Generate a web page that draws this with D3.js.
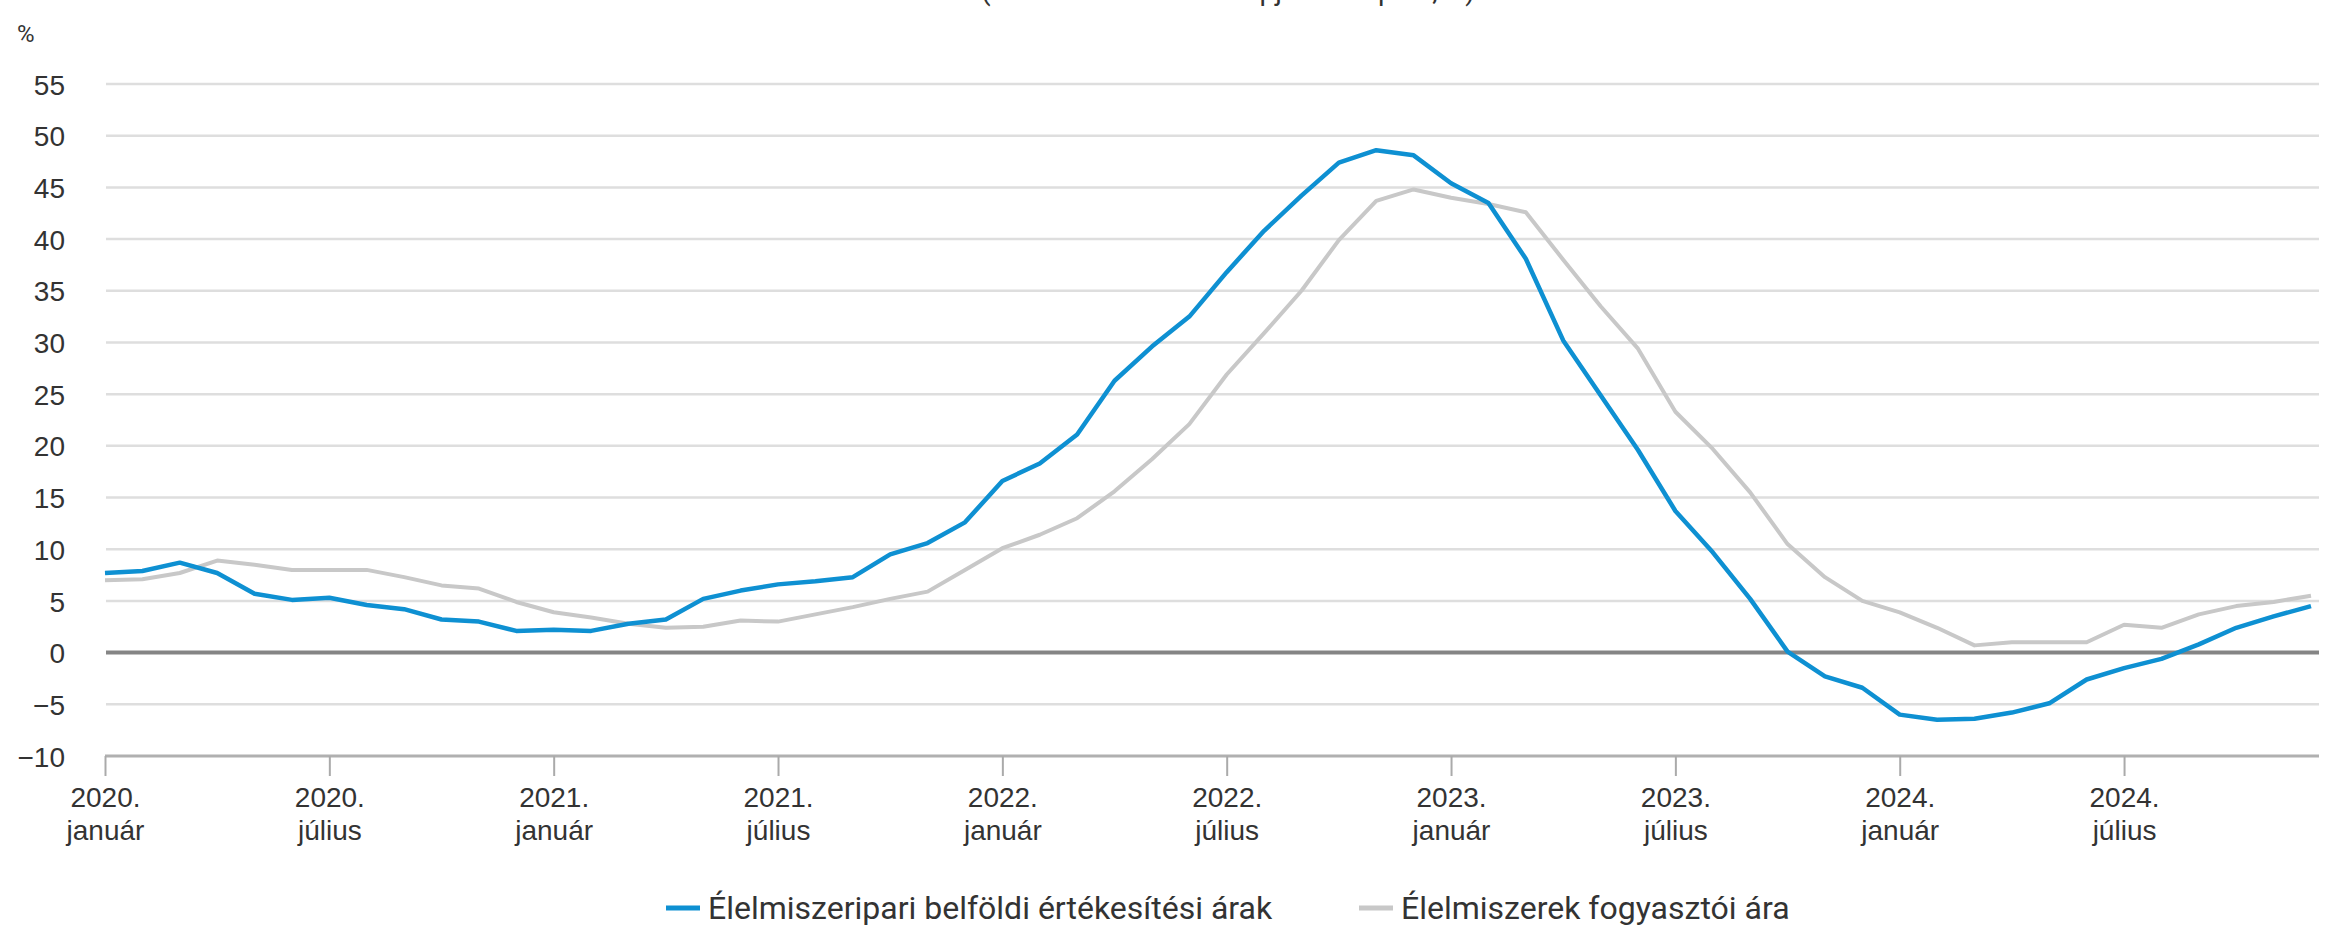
<!DOCTYPE html>
<html>
<head>
<meta charset="utf-8">
<style>
body { margin: 0; background: #fff; }
svg { display: block; font-family: Roboto, "Noto Sans", sans-serif; }
.grid line { stroke: #dedede; stroke-width: 2.5px; }
.axis text { fill: #333; font-size: 28px; }
</style>
</head>
<body>
<script src="https://cdn.jsdelivr.net/npm/d3@7"></script>
<script>
var width = 2337,
    height = 929;

// havi adatok 2020. január - 2024. december
var months = [];
for (var y = 2020; y <= 2024; y++)
  for (var m = 1; m <= 12; m++) months.push(y + "-" + (m < 10 ? "0" + m : m));

var ipari = [7.7,7.9,8.7,7.7,5.7,5.1,5.3,4.6,4.2,3.2,3.0,2.1,2.2,2.1,2.8,3.2,5.2,6.0,6.6,6.9,
  7.3,9.5,10.6,12.6,16.6,18.3,21.1,26.3,29.6,32.5,36.8,40.8,44.2,47.4,48.6,48.1,45.4,43.5,38.1,30.2,
  24.9,19.6,13.7,9.7,5.2,0.1,-2.3,-3.4,-6.0,-6.5,-6.4,-5.8,-4.9,-2.6,-1.5,-0.6,0.8,2.4,3.5,4.5];

var fogyasztoi = [7.0,7.1,7.7,8.9,8.5,8.0,8.0,8.0,7.3,6.5,6.2,4.9,3.9,3.4,2.8,2.4,2.5,3.1,3.0,3.7,
  4.4,5.2,5.9,8.0,10.1,11.4,13.0,15.6,18.7,22.1,26.9,30.9,35.0,39.9,43.7,44.8,44.0,43.4,42.6,38.0,
  33.5,29.4,23.3,19.7,15.5,10.5,7.3,5.0,3.9,2.4,0.7,1.0,1.0,1.0,2.7,2.4,3.7,4.5,4.9,5.5];

var yTicks = [-10,-5,0,5,10,15,20,25,30,35,40,45,50,55];
var monthNames = {"01": "január", "07": "július"};
var seriesNames = ["Élelmiszeripari belföldi értékesítési árak", "Élelmiszerek fogyasztói ára"];
var colors = ["#0e90d2", "#c8c8c8"];

var x = d3.scalePoint()
    .domain(months)
    .range([105, 2311]);

var y = d3.scaleLinear()
    .domain([-10, 55])
    .range([756, 84]);

var svg = d3.select("body").append("svg")
    .attr("width", width)
    .attr("height", height);

// a cím a kép felső szélén levágva
svg.append("text")
    .attr("x", 1228)
    .attr("y", 0)
    .attr("text-anchor", "middle")
    .style("font-size", "28px")
    .style("fill", "#333")
    .text("(előző év azonos hónapjához képest, %)");

svg.append("text")
    .attr("x", 17)
    .attr("y", 42)
    .style("font-size", "24px")
    .style("fill", "#333")
    .text("%");

// rácsvonalak
svg.append("g")
    .attr("class", "grid")
    .selectAll("line")
    .data(yTicks.filter(function(d) { return d > -10 && d !== 0; }))
    .enter().append("line")
    .attr("x1", 106).attr("x2", 2319)
    .attr("y1", function(d) { return y(d); })
    .attr("y2", function(d) { return y(d); });

// y tengely
var yAxis = svg.append("g")
    .attr("class", "axis")
    .attr("transform", "translate(65,0)")
    .call(d3.axisLeft(y).tickValues(yTicks).tickSize(0).tickPadding(0));
yAxis.select(".domain").remove();
yAxis.selectAll("text").attr("dy", "0.36em");

// x tengely
var xAxis = svg.append("g")
    .attr("class", "axis")
    .attr("transform", "translate(0," + y(-10) + ")")
    .call(d3.axisBottom(x)
      .tickValues(months.filter(function(d) { return monthNames[d.slice(5)]; }))
      .tickSize(20)
      .tickFormat(function() { return ""; }));
xAxis.select(".domain")
    .attr("d", "M105,0H2319")
    .attr("stroke", "#b0b0b0")
    .attr("stroke-width", 3);
xAxis.selectAll(".tick line").attr("stroke", "#aaa").attr("stroke-width", 2);
xAxis.selectAll(".tick text").remove();
xAxis.selectAll(".tick").each(function(d) {
  var t = d3.select(this).append("text")
      .attr("text-anchor", "middle")
      .attr("fill", "#333");
  t.append("tspan").attr("x", 0).attr("y", 51).text(d.slice(0, 4) + ".");
  t.append("tspan").attr("x", 0).attr("y", 84).text(monthNames[d.slice(5)]);
});

// nulla vonal
svg.append("line")
    .attr("x1", 106).attr("x2", 2319)
    .attr("y1", y(0)).attr("y2", y(0))
    .attr("stroke", "#858585")
    .attr("stroke-width", 4);

var line = d3.line()
    .x(function(d, i) { return x(months[i]); })
    .y(function(d) { return y(d); });

svg.append("path")
    .datum(fogyasztoi)
    .attr("fill", "none")
    .attr("stroke", colors[1])
    .attr("stroke-width", 4)
    .attr("stroke-linejoin", "round")
    .attr("d", line);

svg.append("path")
    .datum(ipari)
    .attr("fill", "none")
    .attr("stroke", colors[0])
    .attr("stroke-width", 4.5)
    .attr("stroke-linejoin", "round")
    .attr("d", line);

// jelmagyarázat
var legendX = [666, 1359];
var legend = svg.append("g")
    .selectAll("g")
    .data(seriesNames)
    .enter().append("g")
    .attr("transform", function(d, i) { return "translate(" + legendX[i] + ",908)"; });
legend.append("line")
    .attr("x1", 0).attr("x2", 34)
    .attr("stroke", function(d, i) { return colors[i]; })
    .attr("stroke-width", 5);
legend.append("text")
    .attr("x", 42)
    .attr("dy", "0.34em")
    .style("font-size", "32px")
    .style("fill", "#333")
    .text(function(d) { return d; });
</script>
</body>
</html>
